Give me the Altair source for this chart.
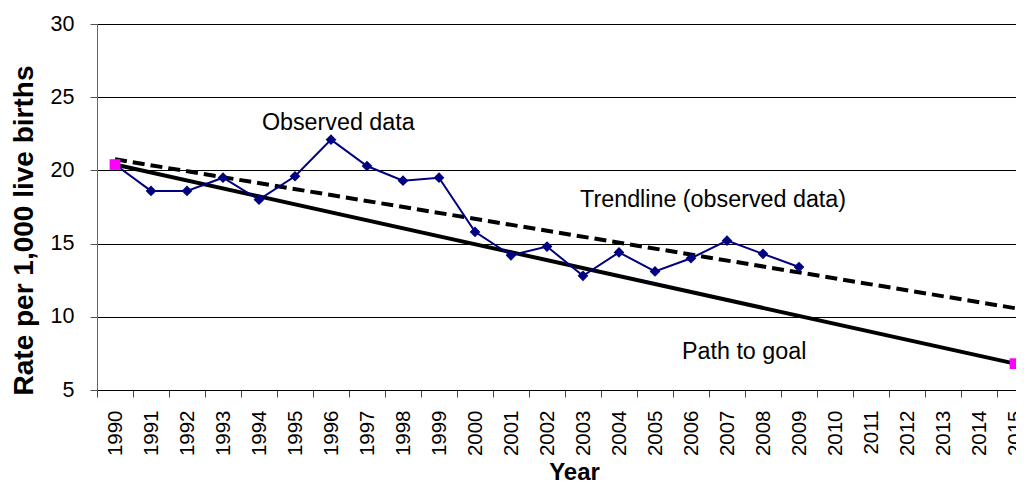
import altair as alt
import pandas as pd

# ---- data ----
axis_years = list(range(1990, 2016))
obs_years = list(range(1990, 2010))
obs_values = [20.4, 18.6, 18.6, 19.5, 18.0, 19.6, 22.1, 20.3, 19.3, 19.5,
              15.8, 14.2, 14.8, 12.8, 14.4, 13.1, 14.0, 15.2, 14.3, 13.4]
goal_years = [1990, 2015]
goal_values = [20.4, 6.8]
y_ticks = [5, 10, 15, 20, 25, 30]

obs_df = pd.DataFrame({"year": obs_years, "value": obs_values})
goal_df = pd.DataFrame({"year": goal_years, "value": goal_values})

FONT = "Liberation Sans"
NAVY = "#000080"
MAGENTA = "#ff00ff"

PLOT_W = 919          # plot area runs off the right edge like the reference
PX_PER_YEAR = 36
xscale = alt.Scale(domain=[1989.5, 1989.5 + PLOT_W / PX_PER_YEAR],
                   nice=False, zero=False)
yscale = alt.Scale(domain=[5, 30], nice=False, zero=False)

x_label_axis = alt.Axis(
    orient="bottom", values=axis_years, format="d", labelAngle=270,
    ticks=False, tickSize=0, labelPadding=20, labelFontSize=20.5,
    labelColor="black", labelFont=FONT, domain=True, domainColor="black",
    domainWidth=1, grid=False, labelOverlap=False, labelFlush=False,
    title="Year", titleFontSize=24, titleFontWeight="bold", titleFont=FONT,
    titleColor="black", titleX=477, titleY=89, titleAlign="center",
    titleBaseline="alphabetic",
)
x_tick_axis = alt.Axis(
    orient="bottom", values=[y - 0.5 for y in axis_years],
    labels=False, ticks=True, tickSize=7, tickColor="#444444", tickWidth=1,
    domain=False, grid=False, title=None,
)
y_axis = alt.Axis(
    values=y_ticks, grid=True, gridColor="black", gridWidth=1,
    domainColor="#666666", tickColor="#555555", tickSize=7, labelFontSize=21.5,
    labelPadding=16, labelColor="black", labelFont=FONT,
    title="Rate per 1,000 live births", titleFontSize=28, titleFontWeight="bold",
    titleFont=FONT, titleColor="black", titleX=-73, titleY=206, titleAngle=270,
    titleAlign="center", titleBaseline="middle",
)

base_obs = alt.Chart(obs_df)

trend = base_obs.transform_regression(
    "year", "value", extent=[1990, 2016]
).mark_line(color="black", strokeWidth=4, strokeDash=[12, 6], clip=True).encode(
    x=alt.X("year:Q", scale=xscale, axis=x_tick_axis),
    y=alt.Y("value:Q", scale=yscale, axis=y_axis),
)

goal_line = alt.Chart(goal_df).mark_line(color="black", strokeWidth=4).encode(
    x=alt.X("year:Q", scale=xscale, axis=None),
    y=alt.Y("value:Q", scale=yscale),
)

obs_line = base_obs.mark_line(color=NAVY, strokeWidth=2).encode(
    x=alt.X("year:Q", scale=xscale, axis=x_label_axis),
    y=alt.Y("value:Q", scale=yscale),
)
obs_pts = base_obs.mark_point(shape="diamond", filled=True, color=NAVY,
                              size=115, opacity=1).encode(
    x=alt.X("year:Q", scale=xscale, axis=None),
    y=alt.Y("value:Q", scale=yscale),
)

goal_pts = alt.Chart(goal_df).mark_point(shape="square", filled=True,
                                         color=MAGENTA, size=115,
                                         opacity=1).encode(
    x=alt.X("year:Q", scale=xscale, axis=None),
    y=alt.Y("value:Q", scale=yscale),
)


def label(text, xv, yv):
    return alt.Chart(obs_df).mark_text(
        text=text, font=FONT, fontSize=23.3, color="black", align="left",
        baseline="middle",
    ).encode(
        x=alt.datum(xv, scale=xscale, axis=None),
        y=alt.datum(yv, scale=yscale),
    ).transform_filter("datum.year == 1990")


t1 = label("Observed data", 1994.08, 23.25)
t2 = label("Trendline (observed data)", 2002.92, 17.98)
t3 = label("Path to goal", 2005.75, 7.6)

chart = alt.layer(
    trend, goal_line, obs_line, obs_pts, goal_pts, t1, t2, t3
).resolve_axis(x="independent").properties(
    width=PLOT_W, height=366,
    autosize=alt.AutoSizeParams(type="none"),
    padding={"left": 89, "top": 16, "right": 0, "bottom": 91},
).configure_view(strokeWidth=0).configure(font=FONT)

chart.save("out.html", embed_options={"renderer": "svg", "actions": False})
